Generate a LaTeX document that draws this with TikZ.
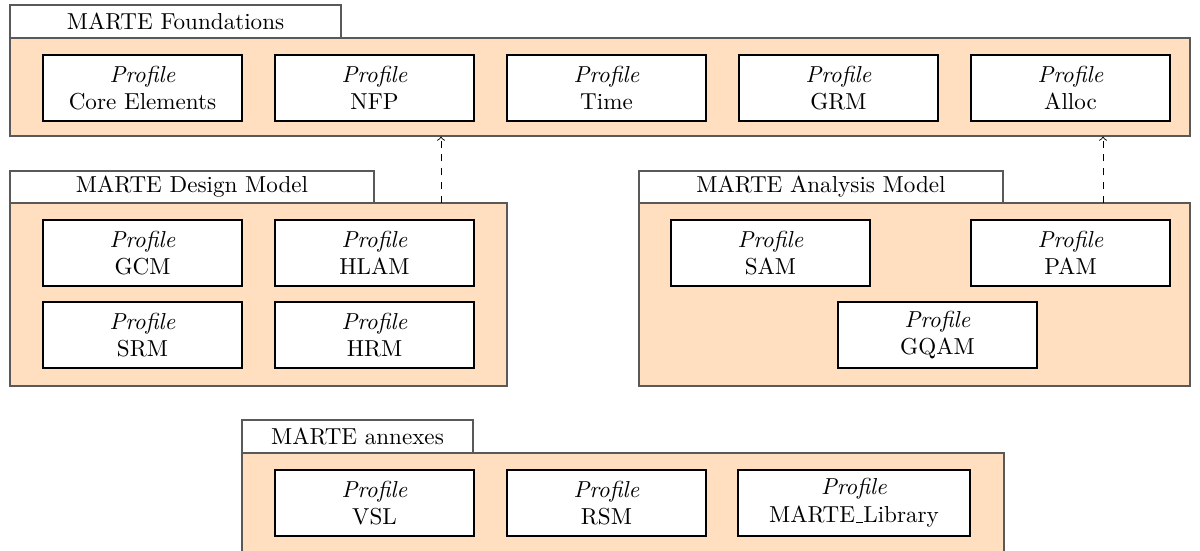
\documentclass[tikz,border=0pt]{standalone}
\newcommand\mybox[7]{\node[#6, minimum width={(#4-#2)*0.433pt}, minimum height={(#5-#3)*0.433pt}] (#1) at ({(#2+#4)/2},{(#3+#5)/2}) {#7};}
\newcommand\lowbar{\leavevmode\kern.06em\vbox{\hrule width .3em}}
\begin{document}
\begin{tikzpicture}[x=0.433pt,y=-0.433pt,
  pkgbody/.style={draw=black!65, fill=orange!25, inner sep=0pt, line width=0.5pt},
  pkgtab/.style={draw=black!65, fill=white, inner sep=0pt, line width=0.5pt},
  prof/.style={draw=black, fill=white, inner sep=0pt, align=center, line width=0.45pt},
  dep/.style={dashed, ->, line width=0.4pt}]
\useasboundingbox (0,0) rectangle (1200,551);
\clip (0,0) rectangle (1200,551);
% Foundations
\mybox{ftab}{10}{5}{341}{38}{pkgtab}{MARTE Foundations}
\mybox{fbody}{10}{38}{1190}{136}{pkgbody}{}
\mybox{core}{43}{55}{242}{121}{prof}{\textit{Profile}\\Core Elements}
\mybox{nfp}{275}{55}{474}{121}{prof}{\textit{Profile}\\NFP}
\mybox{time}{507}{55}{706}{121}{prof}{\textit{Profile}\\Time}
\mybox{grm}{739}{55}{938}{121}{prof}{\textit{Profile}\\GRM}
\mybox{alloc}{971}{55}{1170}{121}{prof}{\textit{Profile}\\Alloc}
% Design
\mybox{dtab}{10}{171}{374}{203}{pkgtab}{MARTE Design Model}
\mybox{dbody}{10}{203}{507}{386}{pkgbody}{}
\mybox{gcm}{43}{220}{242}{286}{prof}{\textit{Profile}\\GCM}
\mybox{hlam}{275}{220}{474}{286}{prof}{\textit{Profile}\\HLAM}
\mybox{srm}{43}{302}{242}{368}{prof}{\textit{Profile}\\SRM}
\mybox{hrm}{275}{302}{474}{368}{prof}{\textit{Profile}\\HRM}
% Analysis
\mybox{atab}{639}{171}{1003}{203}{pkgtab}{MARTE Analysis Model}
\mybox{abody}{639}{203}{1190}{386}{pkgbody}{}
\mybox{sam}{671}{220}{870}{286}{prof}{\textit{Profile}\\SAM}
\mybox{pam}{971}{220}{1170}{286}{prof}{\textit{Profile}\\PAM}
\mybox{gqam}{838}{302}{1037}{368}{prof}{\textit{Profile}\\GQAM}
% Annexes
\mybox{xtab}{242}{420}{473}{453}{pkgtab}{MARTE annexes}
\mybox{xbody}{242}{453}{1004}{570}{pkgbody}{}
\mybox{vsl}{275}{470}{474}{536}{prof}{\textit{Profile}\\VSL}
\mybox{rsm}{507}{470}{706}{536}{prof}{\textit{Profile}\\RSM}
\mybox{lib}{738}{470}{970}{536}{prof}{\textit{Profile}\\MARTE\lowbar Library}
% dependencies
\coordinate (d1) at (441,203);
\coordinate (d2) at (1103,203);
\draw[dep] (d1) -- (d1 |- fbody.south);
\draw[dep] (d2) -- (d2 |- fbody.south);
\end{tikzpicture}
\end{document}
